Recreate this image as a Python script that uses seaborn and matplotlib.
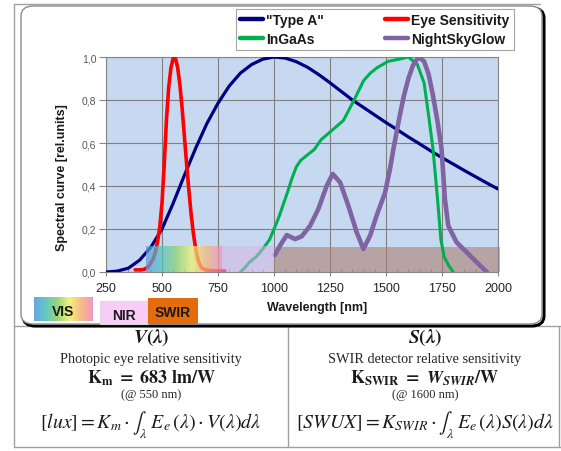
import numpy as np
import pandas as pd
import seaborn as sns
import matplotlib
matplotlib.use("Agg")
import matplotlib.pyplot as plt
from matplotlib.patches import FancyBboxPatch, Rectangle
from matplotlib.lines import Line2D
from matplotlib.colors import LinearSegmentedColormap

# --- data ---
type_a_nm = [250, 300, 350, 400, 450, 500, 550, 600, 650, 700, 750, 800, 850, 900, 950,
             1000, 1050, 1100, 1150, 1200, 1250, 1300, 1350, 1400, 1450, 1500, 1550,
             1600, 1650, 1700, 1750, 1800, 1850, 1900, 1950, 2000]
type_a_val = [0.0, 0.004, 0.018, 0.055, 0.115, 0.2, 0.32, 0.45, 0.575, 0.69, 0.785, 0.865,
              0.925, 0.965, 0.99, 1.0, 0.995, 0.978, 0.952, 0.918, 0.88, 0.84, 0.80, 0.765,
              0.73, 0.695, 0.662, 0.628, 0.596, 0.563, 0.532, 0.502, 0.472, 0.443, 0.414, 0.386]

eye_nm = [380, 400, 420, 440, 460, 470, 480, 490, 500, 510, 520, 530, 540, 550, 560, 570,
          580, 590, 600, 610, 620, 630, 640, 650, 660, 670, 680, 700, 740, 780]
eye_val = [0.01, 0.01, 0.012, 0.025, 0.06, 0.09, 0.14, 0.21, 0.32, 0.5, 0.71, 0.86, 0.95,
           0.995, 0.995, 0.95, 0.87, 0.76, 0.63, 0.5, 0.38, 0.27, 0.18, 0.11, 0.06, 0.03,
           0.017, 0.008, 0.005, 0.005]

ingaas_nm = [850, 870, 890, 920, 950, 980, 1000, 1020, 1040, 1060, 1080, 1100, 1120, 1150,
             1180, 1210, 1260, 1310, 1360, 1400, 1430, 1460, 1510, 1560, 1600, 1640, 1670,
             1690, 1710, 1730, 1745, 1760, 1780, 1800]
ingaas_val = [0.0, 0.02, 0.045, 0.07, 0.107, 0.15, 0.2, 0.25, 0.31, 0.37, 0.435, 0.49, 0.52,
              0.545, 0.57, 0.615, 0.66, 0.705, 0.805, 0.89, 0.925, 0.95, 0.98, 0.99, 1.0,
              0.965, 0.88, 0.73, 0.57, 0.34, 0.15, 0.07, 0.03, 0.0]

nsg_nm = [1004, 1027, 1057, 1094, 1124, 1161, 1198, 1235, 1262, 1295, 1332, 1369, 1399,
          1429, 1458, 1496, 1518, 1533, 1560, 1580, 1600, 1620, 1645, 1670, 1690, 1710,
          1730, 1748, 1763, 1778, 1815, 1860, 1905, 1950]
nsg_val = [0.079, 0.123, 0.172, 0.153, 0.166, 0.215, 0.293, 0.40, 0.456, 0.417, 0.308,
           0.185, 0.107, 0.169, 0.262, 0.37, 0.48, 0.572, 0.72, 0.82, 0.9, 0.96, 1.0, 0.98,
           0.92, 0.82, 0.7, 0.572, 0.34, 0.215, 0.138, 0.092, 0.045, 0.0]

series_names = ['"Type A"', "InGaAs", "Eye Sensitivity", "NightSkyGlow"]
band_edges_nm = [430, 767, 1000, 2010]   # VIS | NIR | SWIR
x_ticks = [250, 500, 750, 1000, 1250, 1500, 1750, 2000]
y_ticks = [0.0, 0.2, 0.4, 0.6, 0.8, 1.0]

sns.set_style("white")
plt.rcParams["font.family"] = ["Liberation Sans", "DejaVu Sans"]
plt.rcParams["mathtext.fontset"] = "stix"

W, H = 561, 452
def fx(x):
    return x / W
def fy(y):
    return 1 - y / H

fig = plt.figure(figsize=(W / 100, H / 100), dpi=100)
fig.patch.set_facecolor("white")

# outer table lines
tbl = "#A0A0A0"
for x0, y0, x1, y1 in [(14, 5, 14, 448), (14, 5, 540, 5), (14, 327, 561, 327),
                       (14, 448, 561, 448), (288, 327, 288, 448), (559, 327, 559, 448)]:
    fig.add_artist(Line2D([fx(x0), fx(x1)], [fy(y0), fy(y1)], transform=fig.transFigure,
                          color=tbl, lw=1, zorder=-3))

# rounded chart frame with dark shadow
shadow = FancyBboxPatch((fx(23), fy(327)), fx(544) - fx(23), fy(9) - fy(327),
                        boxstyle="round,pad=0,rounding_size=0.022", transform=fig.transFigure,
                        facecolor="none", edgecolor="black", lw=2.2, zorder=-2)
frame = FancyBboxPatch((fx(21), fy(325)), fx(542) - fx(21), fy(7) - fy(325),
                       boxstyle="round,pad=0,rounding_size=0.022", transform=fig.transFigure,
                       facecolor="white", edgecolor="#8C8C8C", lw=1, zorder=-1)
fig.add_artist(shadow)
fig.add_artist(frame)

ax = fig.add_axes([fx(106), fy(273), fx(498) - fx(106), fy(58) - fy(273)])
ax.set_facecolor("#C6D9F1")

colors = {'"Type A"': "#000080", "InGaAs": "#00B050",
          "Eye Sensitivity": "#FF0000", "NightSkyGlow": "#8064A2"}
widths = {'"Type A"': 2.3, "InGaAs": 2.2, "Eye Sensitivity": 2.6, "NightSkyGlow": 3.3}

# SWIR band under the curves
ax.fill_between(band_edges_nm[2:4], 0, 0.115, color="#AD7F72", alpha=0.6, lw=0,
                zorder=2, clip_on=False)

sns.lineplot(x=type_a_nm, y=type_a_val, color=colors['"Type A"'], lw=widths['"Type A"'], ax=ax, zorder=4)
sns.lineplot(x=eye_nm, y=eye_val, color=colors["Eye Sensitivity"], lw=widths["Eye Sensitivity"], ax=ax, zorder=4)
sns.lineplot(x=ingaas_nm, y=ingaas_val, color=colors["InGaAs"], lw=widths["InGaAs"], ax=ax, zorder=4)
sns.lineplot(x=nsg_nm, y=nsg_val, color=colors["NightSkyGlow"], lw=widths["NightSkyGlow"], ax=ax, zorder=4)

# VIS gradient and NIR bands over the curves
vis_cmap = LinearSegmentedColormap.from_list(
    "vis", ["#5B9BE0", "#4FC3C0", "#8FD16A", "#F2F26B", "#F7B47C", "#F08CB8"])
grad = np.linspace(0, 1, 256).reshape(1, -1)
ax.imshow(grad, extent=[band_edges_nm[0], band_edges_nm[1], 0, 0.12], aspect="auto",
          cmap=vis_cmap, alpha=0.72, zorder=5)
ax.fill_between(band_edges_nm[1:3], 0, 0.12, color="#D4B7E5", alpha=0.55, lw=0, zorder=5)

ax.set_xlim(250, 2000)
ax.set_ylim(0, 1)
ax.set_xticks(x_ticks)
ax.set_xticks(range(250, 2001, 50), minor=True)
ax.set_yticks(y_ticks)
ax.set_yticklabels([f"{v:.1f}".replace(".", ",") for v in y_ticks])
ax.grid(True, which="major", color="#7F7F7F", lw=0.8)
ax.set_axisbelow(True)
for s in ax.spines.values():
    s.set_color("#868686")
    s.set_linewidth(0.8)
ax.tick_params(axis="y", left=True, length=5, width=0.8, color="#868686", pad=2,
               labelsize=7.5, labelcolor="#595959")
ax.tick_params(axis="x", which="major", bottom=True, length=3, width=0.8, color="#868686",
               pad=4, labelsize=9, labelcolor="#262626")
ax.tick_params(axis="x", which="minor", bottom=True, length=2, width=0.6, color="#868686",
               direction="in")

ax.set_xlabel("Wavelength [nm]", fontsize=9, fontweight="bold", color="#1A1A1A")
ax.set_ylabel("Spectral curve [rel.units]", fontsize=9, fontweight="bold", color="#1A1A1A")
ax.xaxis.set_label_coords(0.538, -0.135)
ax.yaxis.set_label_coords(-0.097, 0.442)

handles = [Line2D([], [], color=colors[n], lw=3.2) for n in series_names]
leg = ax.legend(handles, series_names, loc="upper left", bbox_to_anchor=(fx(236), fy(10)),
                bbox_transform=fig.transFigure, ncol=2, frameon=True, fancybox=False,
                edgecolor="#A6A6A6", facecolor="white", framealpha=1,
                prop={"weight": "bold", "size": 10}, handlelength=1.65, handletextpad=0.2,
                columnspacing=4.45, borderpad=0.3, labelspacing=0.35, borderaxespad=0)
leg.get_frame().set_linewidth(0.8)
for t in leg.get_texts():
    t.set_color("#1A1A1A")

# VIS / NIR / SWIR keys under the chart
vis_ax = fig.add_axes([fx(34), fy(322), fx(93) - fx(34), fy(298) - fy(322)])
vis_ax.imshow(grad, aspect="auto", cmap=vis_cmap, alpha=0.9)
vis_ax.set_axis_off()
vis_ax.text(0.5, 0.42, "VIS", transform=vis_ax.transAxes, ha="center", va="center",
            fontsize=10, fontweight="bold", color="#1A1A1A")
fig.add_artist(Rectangle((fx(100), fy(325)), fx(148) - fx(100), fy(302) - fy(325),
                         transform=fig.transFigure, facecolor="#F9CDF8", edgecolor="#D9D9D9",
                         lw=0.8, zorder=1))
fig.add_artist(Rectangle((fx(148), fy(325)), fx(198) - fx(148), fy(299) - fy(325),
                         transform=fig.transFigure, facecolor="#E46C0A", edgecolor="none",
                         zorder=1))
fig.text(fx(124), fy(316), "NIR", ha="center", va="center", fontsize=10, fontweight="bold",
         color="#1A1A1A", zorder=2)
fig.text(fx(173), fy(313), "SWIR", ha="center", va="center", fontsize=10, fontweight="bold",
         color="#1A1A1A", zorder=2)

# lower table text
serif = ["Liberation Serif", "DejaVu Serif"]
cells = [
    (151, r"$\mathbfit{V}\mathbf{(}\mathbfit{\lambda}\mathbf{)}$",
     "Photopic eye relative sensitivity",
     r"$\mathbf{K}_{\mathbf{m}}\ \mathbf{=\ 683\ lm/W}$",
     "(@ 550 nm)",
     r"$[lux] = K_m \cdot \int_{\lambda}\ E_e\,(\lambda) \cdot V(\lambda) d\lambda$"),
    (425, r"$\mathbfit{S}\mathbf{(}\mathbfit{\lambda}\mathbf{)}$",
     "SWIR detector relative sensitivity",
     r"$\mathbf{K}_{\mathbf{SWIR}}\ \mathbf{=}\ \mathbfit{W}_{\mathbfit{SWIR}}\mathbf{/W}$",
     "(@ 1600 nm)",
     r"$[SWUX] = K_{SWIR} \cdot \int_{\lambda}\ E_e\,(\lambda) S(\lambda) d\lambda$"),
]
for cx, title, desc, kline, at, formula in cells:
    fig.text(fx(cx), fy(338), title, ha="center", va="center", fontsize=14, color="#1A1A1A")
    fig.text(fx(cx), fy(360), desc, ha="center", va="center", fontsize=10.3,
             family=serif, color="#262626")
    fig.text(fx(cx), fy(378), kline, ha="center", va="center", fontsize=13, color="#1A1A1A")
    fig.text(fx(cx), fy(395), at, ha="center", va="center", fontsize=9,
             family=serif, color="#262626")
    fig.text(fx(cx), fy(425), formula, ha="center", va="center", fontsize=14.3, color="#1A1A1A")

fig.savefig("out.png", dpi=100)
